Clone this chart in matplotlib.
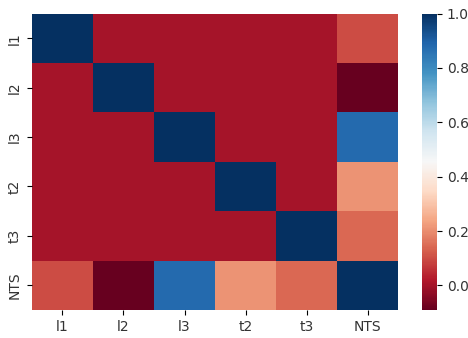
import numpy as np
import matplotlib
matplotlib.use("Agg")
import matplotlib.pyplot as plt
import seaborn as sns

labels = ["l1", "l2", "l3", "t2", "t3", "NTS"]
nts_corr = [0.10, -0.09, 0.88, 0.21, 0.14, 1.0]

corr = np.zeros((6, 6))
np.fill_diagonal(corr, 1.0)
corr[5, :] = nts_corr
corr[:, 5] = nts_corr

fig = plt.figure(figsize=(4.68, 3.38), dpi=100)
ax = fig.add_axes([0.068, 0.083, 0.783, 0.877])
cax = fig.add_axes([0.902, 0.083, 0.032, 0.877])
sns.heatmap(corr, cmap="RdBu", vmin=-0.09, vmax=1.0, ax=ax, cbar_ax=cax,
            xticklabels=labels, yticklabels=labels)
cax.set_yticks([0.0, 0.2, 0.4, 0.6, 0.8, 1.0])
for t in cax.get_yticklabels() + ax.get_xticklabels() + ax.get_yticklabels():
    t.set_color("#333333")
plt.savefig("out.png", dpi=100)
